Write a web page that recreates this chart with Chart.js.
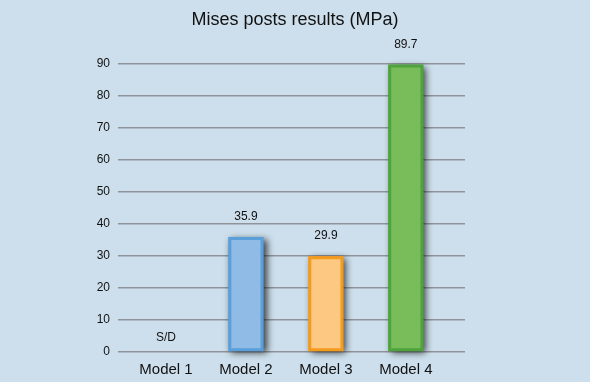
<!DOCTYPE html>
<html>
<head>
<meta charset="utf-8">
<script src="https://cdn.jsdelivr.net/npm/chart.js@4"></script>
<style>
  html, body { margin: 0; padding: 0; background: #cddfec; }
  #wrap { width: 590px; height: 382px; }
</style>
</head>
<body>
<div id="wrap"><canvas id="misesChart"></canvas></div>
<script>
const categories = ['Model 1', 'Model 2', 'Model 3', 'Model 4'];
const values = [null, 35.9, 29.9, 89.7];
const valueLabels = ['S/D', '35.9', '29.9', '89.7'];
const fillColors = ['#8fbbe6', '#8fbbe6', '#fdc881', '#79bd5b'];
const edgeColors = ['#5a9fd9', '#5a9fd9', '#f29b1f', '#4fa33c'];
const yTicks = [0, 10, 20, 30, 40, 50, 60, 70, 80, 90];

Chart.defaults.font.family = '"Liberation Sans", Arial, sans-serif';
Chart.defaults.color = '#111';

// soft dark shadow behind every bar
const barShadow = {
  id: 'barShadow',
  beforeDatasetsDraw(chart) {
    const ctx = chart.ctx;
    chart.getDatasetMeta(0).data.forEach((bar, i) => {
      if (values[i] == null) return;
      const w = bar.width;
      ctx.save();
      ctx.shadowColor = 'rgba(0,0,0,0.75)';
      ctx.shadowBlur = 7;
      ctx.shadowOffsetX = 3;
      ctx.shadowOffsetY = 2;
      ctx.fillStyle = edgeColors[i];
      ctx.fillRect(bar.x - w / 2, bar.y, w, bar.base - bar.y);
      ctx.restore();
    });
  }
};

const valueText = {
  id: 'valueText',
  afterDatasetsDraw(chart) {
    const ctx = chart.ctx;
    ctx.save();
    ctx.font = '12px "Liberation Sans", Arial, sans-serif';
    ctx.fillStyle = '#111';
    ctx.textAlign = 'center';
    ctx.textBaseline = 'middle';
    chart.getDatasetMeta(0).data.forEach((bar, i) => {
      const y = values[i] == null ? bar.base - 14 : bar.y - 20;
      ctx.fillText(valueLabels[i], bar.x, y);
    });
    ctx.restore();
  }
};

new Chart(document.getElementById('misesChart'), {
  type: 'bar',
  data: {
    datasets: [{
      data: values.map((v, i) => ({ x: i + 1, y: v })),
      backgroundColor: fillColors,
      borderColor: edgeColors,
      borderWidth: 3,
      borderSkipped: false,
      categoryPercentage: 0.5,
      barPercentage: 0.88
    }]
  },
  options: {
    responsive: true,
    maintainAspectRatio: false,
    animation: false,
    layout: { padding: 0 },
    plugins: {
      legend: { display: false },
      tooltip: { enabled: false },
      title: {
        display: true,
        text: 'Mises posts results (MPa)',
        font: { size: 18, weight: 'normal' },
        color: '#111',
        padding: { top: 9, bottom: 33 }
      }
    },
    scales: {
      x: {
        type: 'linear',
        min: 0.4,
        max: 4.74,
        offset: false,
        bounds: 'data',
        grid: { display: false, drawTicks: false },
        border: { display: false },
        afterBuildTicks(scale) {
          scale.ticks = categories.map((c, i) => ({ value: i + 1 }));
        },
        afterFit(scale) { scale.height = 30; },
        ticks: {
          padding: 9,
          autoSkip: false,
          maxRotation: 0,
          font: { size: 15 },
          color: '#111',
          callback: (v) => categories[Math.round(v) - 1] || ''
        }
      },
      y: {
        min: 0,
        max: 90,
        afterBuildTicks(scale) {
          scale.ticks = yTicks.map(v => ({ value: v }));
        },
        afterFit(scale) { scale.width = 118; },
        grid: { color: '#8f949a', lineWidth: 1.5, drawTicks: false },
        border: { display: false },
        ticks: {
          padding: 8,
          font: { size: 12 },
          color: '#111'
        }
      },
      // empty right-hand axis that only reserves the blank margin
      yRight: {
        position: 'right',
        min: 0,
        max: 90,
        grid: { display: false, drawTicks: false },
        border: { display: false },
        ticks: { display: false },
        afterFit(scale) { scale.width = 125; }
      }
    }
  },
  plugins: [barShadow, valueText]
});
</script>
</body>
</html>
